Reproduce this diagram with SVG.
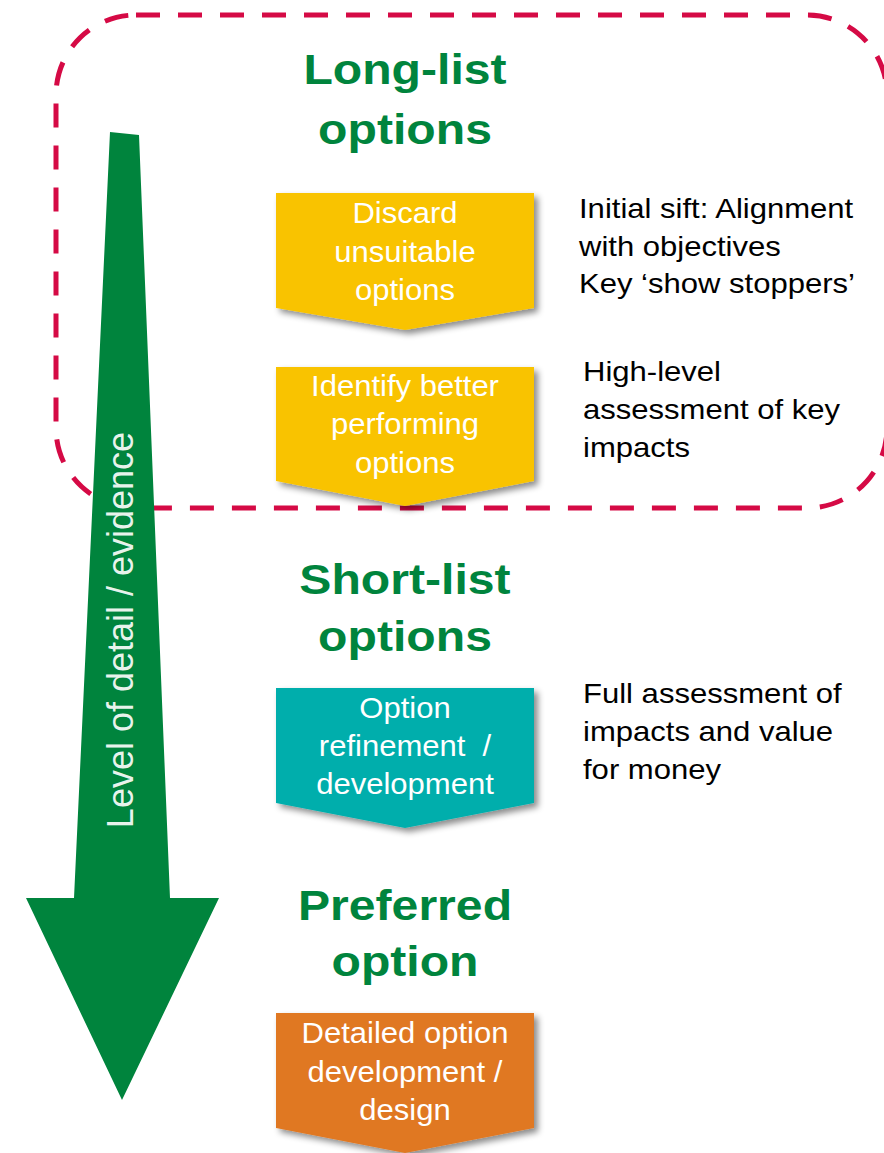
<svg xmlns="http://www.w3.org/2000/svg" width="884" height="1153" viewBox="0 0 884 1153">
  <defs>
    <filter id="shadow" x="-10%" y="-10%" width="130%" height="140%">
      <feDropShadow dx="4" dy="4" stdDeviation="3" flood-color="#000" flood-opacity="0.45"/>
    </filter>
    <style>
      .title { font-family: "Liberation Sans", Arial, sans-serif; font-weight: bold; font-size: 43px; fill: #00843D; text-anchor: middle; }
      .boxtxt { font-family: "Liberation Sans", Arial, sans-serif; font-size: 29px; fill: #ffffff; text-anchor: middle; }
      .note { font-family: "Liberation Sans", Arial, sans-serif; font-size: 27px; fill: #000000; }
      .frame { fill: none; stroke: #D50A45; stroke-width: 5; stroke-dasharray: 24 18; }
      .chev { filter: url(#shadow); }
    </style>
  </defs>

  <rect width="884" height="1153" fill="#ffffff"/>

  <!-- dashed frame around the long-list stage -->
  <rect id="longlist-frame" class="frame" x="56" y="15" width="831" height="493" rx="80" ry="80"/>

  <!-- evidence arrow -->
  <g id="evidence-arrow">
    <path d="M110,132 L139,135 L170,898 L219,898 L122,1100 L26,898 L74,898 Z" fill="#00843D"/>
    <text transform="translate(133,630) rotate(-90)" x="0" y="0" text-anchor="middle"
          style="font-family: 'Liberation Sans', Arial, sans-serif; font-size: 36px; fill: #ffffff; fill-opacity: 0.92;">Level of detail / evidence</text>
  </g>

  <!-- stage titles -->
  <g id="title-longlist">
    <text class="title" transform="translate(405,84) scale(1.12,1)">Long-list</text>
    <text class="title" transform="translate(405,144) scale(1.12,1)">options</text>
  </g>
  <g id="title-shortlist">
    <text class="title" transform="translate(405,594) scale(1.12,1)">Short-list</text>
    <text class="title" transform="translate(405,651) scale(1.12,1)">options</text>
  </g>
  <g id="title-preferred">
    <text class="title" transform="translate(405,920) scale(1.12,1)">Preferred</text>
    <text class="title" transform="translate(405,976) scale(1.12,1)">option</text>
  </g>

  <!-- step chevrons -->
  <g id="step-discard">
    <path class="chev" d="M276,193 H534 V308 L405,330 L276,308 Z" fill="#F9C300"/>
    <text class="boxtxt" transform="translate(405,223) scale(1.07,1)">Discard</text>
    <text class="boxtxt" transform="translate(405,262) scale(1.07,1)">unsuitable</text>
    <text class="boxtxt" transform="translate(405,300) scale(1.07,1)">options</text>
  </g>
  <g id="step-identify">
    <path class="chev" d="M276,367 H534 V481 L405,506 L276,481 Z" fill="#F9C300"/>
    <text class="boxtxt" transform="translate(405,396) scale(1.07,1)">Identify better</text>
    <text class="boxtxt" transform="translate(405,434) scale(1.07,1)">performing</text>
    <text class="boxtxt" transform="translate(405,473) scale(1.07,1)">options</text>
  </g>
  <g id="step-refine">
    <path class="chev" d="M276,688 H534 V803 L405,828 L276,803 Z" fill="#00AEAC"/>
    <text class="boxtxt" transform="translate(405,718) scale(1.07,1)">Option</text>
    <text class="boxtxt" transform="translate(405,756) scale(1.07,1)">refinement&#160; /</text>
    <text class="boxtxt" transform="translate(405,794) scale(1.07,1)">development</text>
  </g>
  <g id="step-design">
    <path class="chev" d="M276,1013 H534 V1128 L405,1153 L276,1128 Z" fill="#E07822"/>
    <text class="boxtxt" transform="translate(405,1043) scale(1.07,1)">Detailed option</text>
    <text class="boxtxt" transform="translate(405,1082) scale(1.07,1)">development /</text>
    <text class="boxtxt" transform="translate(405,1120) scale(1.07,1)">design</text>
  </g>

  <!-- notes -->
  <g id="note-sift">
    <text class="note" transform="translate(579,218) scale(1.15,1)">Initial sift: Alignment</text>
    <text class="note" transform="translate(579,256) scale(1.15,1)">with objectives</text>
    <text class="note" transform="translate(579,293) scale(1.15,1)">Key ‘show stoppers’</text>
  </g>
  <g id="note-highlevel">
    <text class="note" transform="translate(583,381) scale(1.15,1)">High-level</text>
    <text class="note" transform="translate(583,419) scale(1.15,1)">assessment of key</text>
    <text class="note" transform="translate(583,457) scale(1.15,1)">impacts</text>
  </g>
  <g id="note-full">
    <text class="note" transform="translate(583,703) scale(1.15,1)">Full assessment of</text>
    <text class="note" transform="translate(583,741) scale(1.15,1)">impacts and value</text>
    <text class="note" transform="translate(583,779) scale(1.15,1)">for money</text>
  </g>

  <g id="connectors"></g>
</svg>
